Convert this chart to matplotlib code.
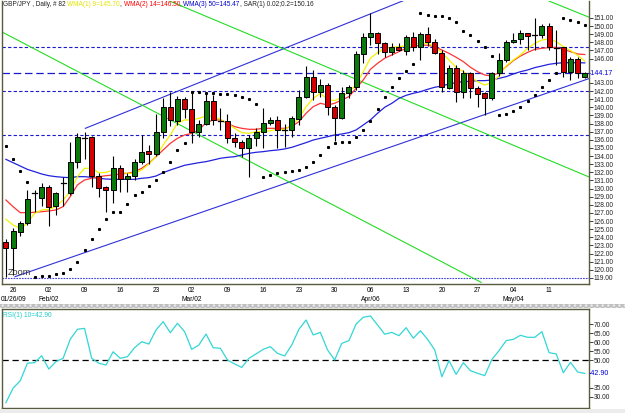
import matplotlib
matplotlib.use('Agg')
import matplotlib.pyplot as plt
from matplotlib.patches import Rectangle
from matplotlib.transforms import blended_transform_factory
import numpy as np

# ---------------- data ----------------
opens = [123.47, 122.73, 124.70, 125.73, 129.40, 128.80, 130.20, 127.80, 130.60, 129.42,
         133.32, 136.30, 136.31, 131.55, 130.16, 129.80, 132.50, 131.14, 131.60, 133.30,
         134.60, 134.25, 137.00, 140.00, 138.36, 141.00, 139.80, 137.00, 138.00, 140.83,
         138.35, 138.30, 136.27, 135.70, 135.04, 136.20, 137.00, 138.10, 138.45, 137.30,
         137.20, 138.55, 141.30, 143.70, 141.93, 142.70, 140.00, 138.70, 141.73, 142.50,
         146.57, 148.70, 149.10, 147.96, 146.86, 147.40, 146.98, 148.60, 147.39, 149.03,
         148.10, 146.70, 142.35, 144.80, 141.93, 144.19, 142.35, 141.73, 141.10, 144.19,
         145.83, 148.00, 148.37, 149.10, 148.90, 148.90, 150.06, 147.30, 147.39, 144.40,
         145.95, 143.78]
highs = [123.76, 125.10, 126.06, 129.83, 129.83, 130.65, 130.45, 129.60, 131.47, 135.78,
         136.80, 137.00, 136.50, 131.90, 130.30, 134.00, 132.90, 131.90, 133.70, 136.60,
         135.37, 139.18, 141.11, 141.93, 141.40, 141.30, 141.90, 138.50, 141.73, 141.50,
         139.96, 139.20, 136.80, 136.00, 136.60, 137.40, 139.90, 138.80, 138.90, 137.90,
         138.90, 142.10, 145.10, 144.60, 143.50, 143.00, 140.30, 142.50, 142.75, 146.98,
         149.10, 151.57, 149.30, 148.10, 147.90, 147.90, 148.90, 149.30, 149.30, 149.90,
         148.40, 147.00, 145.20, 145.20, 144.60, 144.40, 142.60, 141.90, 144.40, 146.65,
         148.30, 149.10, 149.50, 149.20, 150.96, 150.26, 150.43, 149.50, 147.45, 146.24,
         146.24, 144.40]
lows = [119.16, 119.40, 124.21, 125.52, 127.16, 127.80, 125.40, 126.75, 127.80, 129.20,
        132.50, 133.70, 130.24, 128.93, 127.16, 128.20, 129.60, 129.60, 131.00, 133.00,
        133.00, 134.00, 136.27, 137.70, 137.80, 138.65, 135.57, 136.40, 137.80, 137.80,
        137.20, 135.65, 135.16, 133.93, 131.47, 135.20, 135.00, 137.80, 135.00, 135.16,
        136.40, 137.80, 141.10, 140.90, 141.30, 139.06, 135.80, 138.60, 141.20, 142.10,
        145.40, 147.70, 146.60, 146.20, 146.40, 146.90, 146.40, 146.90, 145.80, 147.50,
        146.60, 141.90, 142.20, 140.70, 141.10, 141.10, 140.00, 139.06, 140.90, 143.80,
        145.60, 147.90, 147.80, 147.06, 147.06, 148.50, 147.06, 145.20, 143.78, 143.37,
        143.57, 143.57]
closes = [122.73, 124.83, 125.73, 128.68, 129.45, 130.20, 127.70, 129.42, 130.65, 133.32,
          136.31, 136.20, 131.60, 130.12, 129.80, 132.50, 131.14, 131.60, 133.32, 134.55,
          134.25, 137.00, 140.00, 138.45, 141.00, 139.80, 137.00, 137.90, 140.83, 138.45,
          138.30, 136.27, 135.70, 135.04, 136.20, 137.00, 138.10, 138.45, 137.20, 137.22,
          138.65, 141.30, 143.70, 141.93, 142.75, 140.00, 138.70, 141.73, 142.55, 146.57,
          148.70, 149.10, 147.96, 146.86, 147.39, 147.10, 148.60, 147.39, 149.03, 148.10,
          146.70, 142.47, 144.80, 141.93, 144.19, 142.35, 141.70, 141.10, 144.19, 145.83,
          148.00, 148.30, 149.10, 148.78, 148.95, 150.06, 147.39, 147.25, 144.40, 145.95,
          144.27, 144.17]

wma9 = [126.22, 125.52, 125.11, 125.73, 126.96, 127.37, 127.45, 127.78, 128.60, 129.63,
        131.47, 132.50, 132.50, 131.96, 131.99, 132.29, 131.99, 131.88, 131.88, 132.29,
        133.03, 133.93, 135.37, 136.60, 138.04, 138.45, 138.45, 138.65, 138.94, 138.94,
        138.53, 138.04, 137.42, 136.89, 136.80, 137.01, 137.01, 137.13, 137.30, 137.30,
        137.83, 138.65, 140.09, 141.11, 141.73, 140.99, 140.83, 141.24, 141.93, 142.75,
        144.39, 146.04, 146.73, 147.27, 147.39, 147.47, 147.59, 147.80, 147.88, 147.88,
        147.47, 146.73, 145.83, 144.93, 144.39, 143.78, 143.16, 142.75, 143.04, 143.86,
        145.09, 145.83, 146.45, 147.27, 147.88, 148.29, 148.42, 148.09, 147.47, 147.00,
        146.40, 145.70]
wma14 = [128.60, 127.78, 127.04, 127.04, 127.08, 127.16, 127.25, 127.37, 127.78, 129.01,
         130.45, 131.06, 131.27, 131.47, 131.59, 131.68, 131.80, 131.88, 132.09, 132.50,
         133.11, 133.93, 134.75, 135.57, 136.19, 136.60, 136.80, 137.22, 138.12, 138.45,
         138.45, 138.04, 137.63, 137.42, 137.30, 137.30, 137.42, 137.42, 137.42, 137.42,
         137.63, 138.24, 139.27, 140.09, 140.50, 140.29, 140.50, 140.91, 141.32, 142.34,
         143.37, 144.68, 145.42, 146.04, 146.45, 146.86, 147.27, 147.47, 147.68, 147.64,
         147.47, 147.06, 146.65, 146.16, 145.63, 144.93, 144.39, 143.98, 143.86, 144.27,
         145.01, 145.75, 146.32, 146.77, 147.14, 147.27, 147.35, 147.39, 147.14, 146.86,
         146.57, 146.50]
wma50 = [133.60, 133.19, 132.78, 132.37, 132.09, 131.80, 131.59, 131.47, 131.39, 131.35,
         131.47, 131.47, 131.39, 131.27, 131.18, 131.14, 131.14, 131.14, 131.14, 131.27,
         131.35, 131.55, 131.96, 132.29, 132.58, 132.87, 133.03, 133.19, 133.32, 133.52,
         133.73, 133.85, 133.93, 134.14, 134.34, 134.47, 134.55, 134.67, 134.75, 134.88,
         135.08, 135.37, 135.66, 135.98, 136.19, 136.39, 136.60, 136.72, 136.89, 137.22,
         137.83, 138.45, 139.27, 140.01, 140.50, 141.11, 141.48, 141.73, 141.93, 142.22,
         142.47, 142.63, 142.88, 143.04, 143.16, 143.20, 143.29, 143.29, 143.37, 143.57,
         143.78, 144.11, 144.39, 144.60, 144.89, 145.09, 145.30, 145.42, 145.50, 145.50,
         145.50, 145.47]
sar = [135.29, 133.65, 132.21, 130.86, 119.16, 119.20, 119.30, 119.45, 119.60, 120.07,
       120.93, 122.45, 123.76, 125.07, 126.30, 127.12, 127.12, 128.15, 129.17, 129.63,
       130.36, 131.06, 132.01, 133.32, 134.75, 135.66, 141.93, 141.89, 141.81, 141.73,
       141.69, 141.65, 141.56, 141.24, 141.00, 140.41, 131.47, 131.68, 131.88, 132.00,
       132.21, 132.29, 132.70, 133.32, 134.14, 135.07, 135.66, 135.73, 135.78, 136.31,
       137.22, 138.32, 139.80, 141.24, 142.47, 143.57, 144.48, 145.34, 151.57, 151.37,
       151.29, 151.25, 150.96, 150.55, 149.44, 148.90, 148.21, 147.39, 146.36, 139.06,
       139.18, 139.59, 140.09, 140.83, 141.52, 142.47, 143.37, 144.27, 150.96, 150.75,
       150.47, 150.16]
rsi = [26.9, 34.8, 38.9, 48.5, 48.8, 52.6, 45.3, 49.4, 51.2, 61.6,
       67.1, 67.6, 51.2, 48.5, 47.5, 54.8, 51.2, 52.1, 57.0, 60.3,
       59.0, 66.7, 71.3, 65.2, 70.4, 65.8, 56.1, 58.5, 64.5, 57.0,
       56.7, 50.3, 48.1, 46.2, 51.2, 53.6, 56.1, 57.6, 53.9, 52.5,
       58.5, 67.1, 72.2, 64.0, 65.4, 55.8, 50.3, 59.4, 60.9, 70.0,
       73.7, 74.4, 69.5, 64.4, 65.4, 63.6, 68.0, 62.2, 66.3, 61.6,
       55.8, 41.1, 49.9, 42.4, 48.8, 44.4, 43.0, 41.7, 50.6, 55.4,
       60.9, 61.6, 63.8, 62.7, 62.7, 65.8, 54.3, 53.6, 43.3, 49.0,
       43.7, 42.9]

day_ticks = [1, 6, 11, 16, 21, 26, 31, 36, 41, 46, 51, 56, 61, 66, 71, 76]
day_labels = ['26', '02', '09', '16', '23', '02', '09', '16', '23', '30',
              '06', '13', '20', '27', '04', '11']
month_ticks = [1, 6, 26, 51, 71]
month_labels = ['01/26/09', 'Feb/02', 'Mar/02', 'Apr/06', 'May/04']

hlines_price = [147.40, 142.00, 136.56]
last_price = 144.17
bottom_line = 119.0
# trend lines: (bar, price) pairs
blue_upper = ([11.11, 56.0], [137.42, 153.27])
blue_lower = ([1.27, 81.52], [119.16, 143.52])
green_1 = ([-0.55, 66.5], [149.28, 118.46])
green_2 = ([23.0, 81.52], [153.05, 131.46])
green_3 = ([75.9, 81.52], [153.12, 151.12])

price_ticks = [119, 120, 121, 122, 123, 124, 125, 126, 127, 128, 129, 130, 131, 132,
               133, 134, 135, 136, 137, 138, 139, 140, 141, 142, 143, 146, 147, 148,
               149, 150, 151]
rsi_ticks = [30, 35, 50, 55, 60, 65, 70]
rsi_last = 42.90

# ---------------- figure ----------------
W, H = 625, 413
fig = plt.figure(figsize=(W / 100, H / 100), dpi=100)
fig.patch.set_facecolor('white')
FONT = 'Liberation Sans'
FS = 4.8
frame_col = '#5a5a3c'


def fx(px):
    return px / W


def fy(py):
    return 1 - py / H


ax = fig.add_axes([fx(2), fy(284), fx(588.5) - fx(2), fy(1) - fy(284)])
ax.set_xlim(-0.55, 81.52)
ax.set_ylim(118.26, 153.09)
ax.set_facecolor('white')
ax.spines['top'].set_visible(False)
for s in ['left', 'right', 'bottom']:
    ax.spines[s].set_color(frame_col)
    ax.spines[s].set_linewidth(1.0)
ax.set_xticks([])
ax.yaxis.tick_right()
ax.set_yticks(price_ticks)
ax.set_yticklabels(['%.2f' % v for v in price_ticks], fontsize=FS, family=FONT)
ax.tick_params(axis='y', length=3, width=0.6, pad=0.6, colors='#222222')
ax.text(1.0, last_price, '-144.17', transform=blended_transform_factory(ax.transAxes, ax.transData),
        color='#0000dd', fontsize=FS + 0.3, family=FONT, va='center', ha='left')

# horizontal dashed lines
for p in hlines_price:
    ax.axhline(p, color='#1a1acc', lw=0.8, ls=(0, (3, 2)), zorder=1)
ax.axhline(last_price, color='#1a1acc', lw=0.9, ls=(0, (6, 3)), zorder=1)
ax.axhline(bottom_line, color='#4040dd', lw=0.8, ls=(0, (1.5, 1)), zorder=1)

# trend lines
ax.plot(*blue_upper, color='#3030d8', lw=0.8, zorder=1)
ax.plot(*blue_lower, color='#3030d8', lw=0.8, zorder=1)
ax.plot(*green_1, color='#22dd22', lw=0.8, zorder=1)
ax.plot(*green_2, color='#22dd22', lw=0.8, zorder=1)
ax.plot(*green_3, color='#22dd22', lw=0.8, zorder=1)

x = np.arange(len(closes))
ax.plot(x, wma50, color='#2222dd', lw=0.9, zorder=2)
ax.plot(x, wma14, color='#ff3333', lw=0.9, zorder=2)
ax.plot(x, wma9, color='#f2f200', lw=0.9, zorder=2)

# candles
bw = 0.7
for i in range(len(closes)):
    o, h, l, c = opens[i], highs[i], lows[i], closes[i]
    ax.plot([i, i], [l, h], color='black', lw=0.8, zorder=3, solid_capstyle='butt')
    if abs(c - o) < 0.12:
        ax.plot([i - bw / 2, i + bw / 2], [c, c], color='black', lw=0.9, zorder=4)
    else:
        col = '#0a7a0a' if c > o else '#d40000'
        ax.add_patch(Rectangle((i - bw / 2, min(o, c)), bw, abs(c - o),
                               facecolor=col, edgecolor='black', lw=0.7, zorder=4))

ax.plot(x, sar, linestyle='none', marker='s', ms=1.2, color='black', zorder=5)

ax.text(0.01, 0.025, 'Zoom', transform=ax.transAxes, fontsize=6.6, family=FONT,
        color='#333333', ha='left', va='bottom')

# x labels
bt = blended_transform_factory(ax.transData, fig.transFigure)
for b, lab in zip(day_ticks, day_labels):
    fig.text(0, 0, lab, transform=bt, fontsize=FS, family=FONT, ha='center', va='center').set_position((b, fy(291)))
for b, lab in zip(month_ticks, month_labels):
    fig.text(0, 0, lab, transform=bt, fontsize=FS, family=FONT, ha='center', va='center').set_position((b, fy(299.5)))

# header
renderer = fig.canvas.get_renderer()
pieces = [('GBP/JPY , Daily, # 82 ', '#222222'), ('WMA(1) 9=145.70', '#e6e600'), (', ', '#222222'),
          ('WMA(2) 14=146.50', '#ff0000'), (', ', '#222222'), ('WMA(3) 50=145.47', '#0000cc'),
          (', SAR(1) 0.02;0.2=150.16', '#222222')]
xp = 3
for txt, col in pieces:
    t = fig.text(fx(xp), fy(5), txt, fontsize=4.7, family=FONT, color=col, ha='left', va='center')
    bb = t.get_window_extent(renderer=renderer)
    xp += bb.width

# separator strip
fig.patches.append(Rectangle((0, fy(308)), 1, fy(303.5) - fy(308), transform=fig.transFigure,
                             facecolor='#e4e4e4', edgecolor='#bdbdbd', hatch='xxxxxx', lw=0))
fig.patches.append(Rectangle((0, 0), 1, fy(408.5), transform=fig.transFigure,
                             facecolor='#ececec', edgecolor='none'))

# RSI panel
ax2 = fig.add_axes([fx(2), fy(408), fx(588.5) - fx(2), fy(309) - fy(408)])
ax2.set_xlim(-0.55, 81.52)
ax2.set_ylim(23.97, 78.22)
for s in ax2.spines.values():
    s.set_color(frame_col)
    s.set_linewidth(1.0)
ax2.set_xticks([])
ax2.yaxis.tick_right()
ax2.set_yticks(rsi_ticks)
ax2.set_yticklabels(['%.2f' % v for v in rsi_ticks], fontsize=FS, family=FONT)
ax2.tick_params(axis='y', length=3, width=0.6, pad=0.6, colors='#222222')
ax2.axhline(50, color='black', lw=0.9, ls=(0, (5, 3)), zorder=1)
ax2.plot(x, rsi, color='#33d6d6', lw=0.9, zorder=2)
ax2.text(1.0, rsi_last, '-42.90', transform=blended_transform_factory(ax2.transAxes, ax2.transData),
         color='#0000dd', fontsize=FS + 0.3, family=FONT, va='center', ha='left')
ax2.text(0.002, 0.97, 'RSI(1) 10=42.90', transform=ax2.transAxes, fontsize=FS, family=FONT,
         color='#22cccc', ha='left', va='top')

fig.savefig('out.png', dpi=100)
